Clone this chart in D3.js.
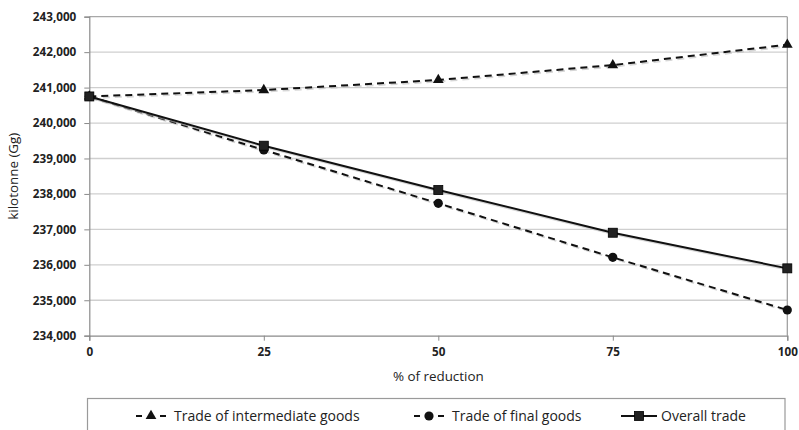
<!DOCTYPE html>
<html><head><meta charset="utf-8">
<script src="https://cdn.jsdelivr.net/npm/d3@7"></script>
<style>body{margin:0;background:#fff;} svg{display:block;}</style>
</head><body>
<svg id="c" width="799" height="430"></svg>
<script>
const reductions = [0, 25, 50, 75, 100];
const intermediate = [240750, 240930, 241215, 241635, 242210];
const finalGoods = [240750, 239240, 237735, 236210, 234725];
const overall = [240750, 239360, 238110, 236905, 235900];
const yTicks = [234000, 235000, 236000, 237000, 238000, 239000, 240000, 241000, 242000, 243000];
const seriesNames = ["Trade of intermediate goods", "Trade of final goods", "Overall trade"];

const svg = d3.select("#c");
const font = "'Open Sans', 'Liberation Sans', sans-serif";
const L = 89.3, R = 787.3, T = 16.7, B = 335.7;
const x = d3.scaleLinear().domain([0, 100]).range([L, R]);
const y = d3.scaleLinear().domain([234000, 243000]).range([B, T]);

// gridlines
svg.append("g").selectAll("line").data(yTicks.slice(1, -1)).join("line")
  .attr("x1", L).attr("x2", R).attr("y1", d => y(d)).attr("y2", d => y(d))
  .attr("stroke", "#cfcfcf").attr("stroke-width", 1.3);
// plot border top and right
svg.append("line").attr("x1", L).attr("x2", R).attr("y1", T).attr("y2", T).attr("stroke", "#a8a8a8").attr("stroke-width", 1.2);
svg.append("line").attr("x1", R).attr("x2", R).attr("y1", T).attr("y2", B).attr("stroke", "#9a9a9a").attr("stroke-width", 1.2);

// y axis
const ya = svg.append("g").attr("transform", `translate(${L},0)`)
  .call(d3.axisLeft(y).tickValues(yTicks).tickSize(5).tickPadding(8).tickFormat(d3.format(",")));
ya.select(".domain").attr("stroke", "#8a8a8a").attr("stroke-width", 1.2);
ya.selectAll(".tick line").attr("stroke", "#8a8a8a");
ya.selectAll("text").attr("font-family", font).attr("font-size", 11.7).attr("font-weight", "bold").attr("fill", "#222");

// x axis
const xa = svg.append("g").attr("transform", `translate(0,${B})`)
  .call(d3.axisBottom(x).tickValues(reductions).tickSize(5).tickPadding(7));
xa.select(".domain").attr("stroke", "#8a8a8a").attr("stroke-width", 1.2);
xa.selectAll(".tick line").attr("stroke", "#8a8a8a");
xa.selectAll("text").attr("font-family", font).attr("font-size", 11.7).attr("font-weight", "bold").attr("fill", "#222");

// axis titles
svg.append("text").attr("x", (L + R) / 2).attr("y", 381).attr("text-anchor", "middle")
  .attr("font-family", font).attr("font-size", 13.4).attr("fill", "#222").text("% of reduction");
svg.append("text").attr("transform", `translate(18,${(T + B) / 2}) rotate(-90)`).attr("text-anchor", "middle")
  .attr("font-family", font).attr("font-size", 13.4).attr("fill", "#222").text("kilotonne (Gg)");

const series = [
  { vals: intermediate, dash: "7,5", marker: "triangle" },
  { vals: finalGoods, dash: "7,5", marker: "circle" },
  { vals: overall, dash: null, marker: "square" }
];
const line = d3.line().x((d, i) => x(reductions[i])).y(d => y(d));

function drawMarker(g, type, cx, cy) {
  if (type === "triangle") g.append("path").attr("d", d3.symbol(d3.symbolTriangle, 50)()).attr("transform", `translate(${cx},${cy})`).attr("fill", "#111");
  else if (type === "circle") g.append("circle").attr("cx", cx).attr("cy", cy).attr("r", 4.6).attr("fill", "#111");
  else g.append("rect").attr("x", cx - 4.5).attr("y", cy - 4.5).attr("width", 9).attr("height", 9).attr("fill", "#222").attr("stroke", "#000").attr("stroke-width", 0.8);
}

series.forEach(s => {
  svg.append("path").datum(s.vals).attr("d", line).attr("fill", "none").attr("stroke", "#bbb")
    .attr("stroke-width", 2).attr("stroke-dasharray", s.dash).attr("transform", "translate(1.5,1.5)").attr("opacity", 0.6);
  svg.append("path").datum(s.vals).attr("d", line).attr("fill", "none").attr("stroke", "#111")
    .attr("stroke-width", 2).attr("stroke-dasharray", s.dash);
});
series.forEach(s => {
  const g = svg.append("g");
  s.vals.forEach((v, i) => drawMarker(g, s.marker, x(reductions[i]), y(v)));
});

// legend box
svg.append("rect").attr("x", 87.5).attr("y", 398.5).attr("width", 697.5).attr("height", 60)
  .attr("fill", "#fff").attr("stroke", "#9a9a9a").attr("stroke-width", 1.2);
const ly = 416;
const legendX = [136, 414, 621];
series.forEach((s, i) => {
  const g = svg.append("g");
  const x0 = legendX[i];
  if (s.dash) {
    g.append("line").attr("x1", x0).attr("x2", x0 + 6).attr("y1", ly).attr("y2", ly).attr("stroke", "#111").attr("stroke-width", 2);
    g.append("line").attr("x1", x0 + 24).attr("x2", x0 + 30).attr("y1", ly).attr("y2", ly).attr("stroke", "#111").attr("stroke-width", 2);
    drawMarker(g, s.marker, x0 + 15, ly);
    g.append("text").attr("x", x0 + 38).attr("y", ly).attr("dy", "0.35em").attr("font-family", font).attr("font-size", 14).attr("fill", "#222").text(seriesNames[i]);
  } else {
    g.append("line").attr("x1", x0).attr("x2", x0 + 36).attr("y1", ly).attr("y2", ly).attr("stroke", "#111").attr("stroke-width", 2);
    drawMarker(g, s.marker, x0 + 18, ly);
    g.append("text").attr("x", x0 + 40).attr("y", ly).attr("dy", "0.35em").attr("font-family", font).attr("font-size", 14).attr("fill", "#222").text(seriesNames[i]);
  }
});
</script>
</body></html>
